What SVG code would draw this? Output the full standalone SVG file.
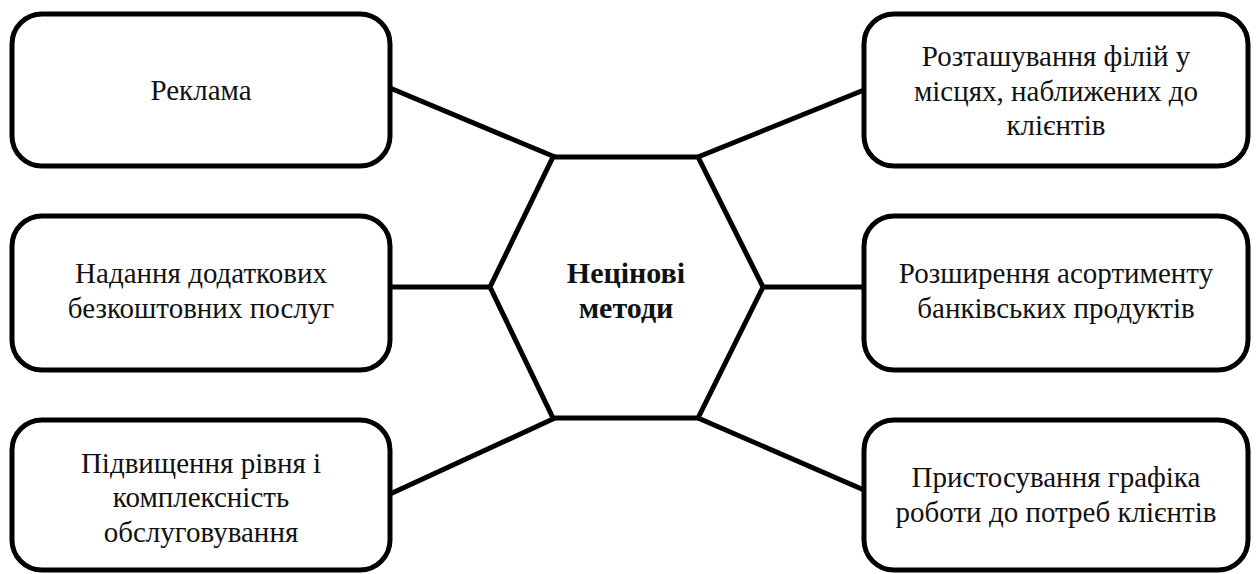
<svg xmlns="http://www.w3.org/2000/svg" width="1256" height="574" viewBox="0 0 1256 574">
<style>
.box{fill:#fff;stroke:#000;stroke-width:5}
.hex{fill:#fff;stroke:#000;stroke-width:5;stroke-linejoin:miter}
.con{stroke:#000;stroke-width:5;fill:none}
.t{font-family:"Liberation Serif","Times New Roman",serif;font-size:29px;fill:#111;text-anchor:middle}
.title{font-weight:bold;font-size:30px}
</style>
<rect width="1256" height="574" fill="#fff"/>
<g id="connectors">
<line class="con" x1="390" y1="88" x2="555" y2="157"/>
<line class="con" x1="390" y1="287" x2="490" y2="287"/>
<line class="con" x1="390" y1="494" x2="555" y2="418"/>
<line class="con" x1="698" y1="157" x2="864" y2="90"/>
<line class="con" x1="763" y1="287" x2="864" y2="287"/>
<line class="con" x1="698" y1="418" x2="864" y2="490"/>
</g>
<g id="center">
<polygon class="hex" points="553,157 698,157 763,287 698,418 553,418 490,287"/>
<text class="t title" x="626" y="283">Нецінові</text>
<text class="t title" x="626" y="318">методи</text>
</g>
<g id="n1">
<rect class="box" x="12" y="14" width="378" height="152" rx="30"/>
<text class="t" x="201" y="100">Реклама</text>
</g>
<g id="n2">
<rect class="box" x="12" y="216" width="378" height="154" rx="30"/>
<text class="t" x="201" y="283">Надання додаткових</text>
<text class="t" x="201" y="318">безкоштовних послуг</text>
</g>
<g id="n3">
<rect class="box" x="12" y="420" width="378" height="150" rx="30"/>
<text class="t" x="201" y="473">Підвищення рівня і</text>
<text class="t" x="201" y="507">комплексність</text>
<text class="t" x="201" y="542">обслуговування</text>
</g>
<g id="n4">
<rect class="box" x="864" y="14" width="384" height="152" rx="30"/>
<text class="t" x="1056" y="66">Розташування філій у</text>
<text class="t" x="1056" y="101">місцях, наближених до</text>
<text class="t" x="1056" y="135">клієнтів</text>
</g>
<g id="n5">
<rect class="box" x="864" y="216" width="384" height="154" rx="30"/>
<text class="t" x="1056" y="283">Розширення асортименту</text>
<text class="t" x="1056" y="318">банківських продуктів</text>
</g>
<g id="n6">
<rect class="box" x="864" y="420" width="384" height="150" rx="30"/>
<text class="t" x="1056" y="487">Пристосування графіка</text>
<text class="t" x="1056" y="522">роботи до потреб клієнтів</text>
</g>
</svg>
